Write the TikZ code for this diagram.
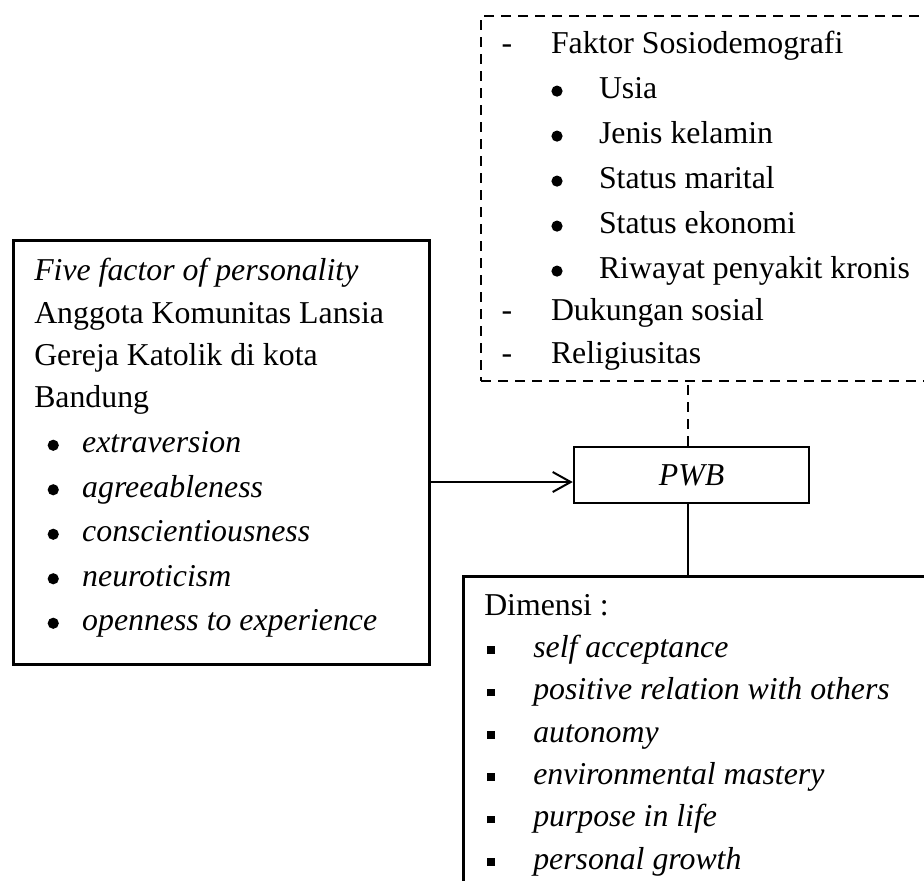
\documentclass[tikz,border=0pt]{standalone}
\usepackage{fontspec}
\setmainfont{Liberation Serif}
\usetikzlibrary{positioning,calc,arrows.meta}

% symbol centred at #1, text starting at #3 (both from the left margin)
\newcommand{\lstitem}[4]{\rlap{\hspace*{#1}\makebox[0pt]{#2}}\hspace*{#3}#4}
\newcommand{\sqbul}{\rule[1.7pt]{3.9pt}{3.9pt}}
\newcommand{\rndbul}{\tikz[baseline=0pt,x=1pt,y=1pt]\fill (0,3.7) circle [radius=2.8pt];}
\newcommand{\boxfont}{\fontsize{15.9pt}{21.15pt}\selectfont\parindent=0pt\leftskip=10.5pt}

\begin{document}
\begin{tikzpicture}[x=0.5pt,y=-0.5pt,
box/.style={
  draw,
  line width=1.25pt,
  inner sep=0pt,
  anchor=north west},
dashbox/.style={box, line width=1pt, dash pattern=on 5pt off 3.5pt},
link/.style={line width=1pt},
dashlink/.style={link, dash pattern=on 5pt off 3.5pt},
arr/.style={link, -{Straight Barb[length=9pt,width=10pt]}}
]
\useasboundingbox (0,0) rectangle (924,880);
\clip (0,0) rectangle (924,880);
% personality box
\node[box] (L) at (12,239) {\begin{minipage}[t][212pt][t]{208pt}\boxfont
\rule{0pt}{20.25pt}\textit{Five factor of personality}\\
Anggota Komunitas Lansia\\
Gereja Katolik di kota\\
Bandung\\[1.35pt]
\lstitem{9.5pt}{\rndbul}{24pt}{\textit{extraversion}}\\[1.1pt]
\lstitem{9.5pt}{\rndbul}{24pt}{\textit{agreeableness}}\\[1.1pt]
\lstitem{9.5pt}{\rndbul}{24pt}{\textit{conscientiousness}}\\[1.1pt]
\lstitem{9.5pt}{\rndbul}{24pt}{\textit{neuroticism}}\\[1.1pt]
\lstitem{9.5pt}{\rndbul}{24pt}{\textit{openness to experience}}
\end{minipage}};
% other factors
\node[dashbox] (D) at (480,15) {\begin{minipage}[t][182.5pt][t]{235pt}\boxfont
\rule{0pt}{18.75pt}\lstitem{2.5pt}{-}{24.5pt}{Faktor Sosiodemografi}\\[1.35pt]
\lstitem{27.5pt}{\rndbul}{48.5pt}{Usia}\\[1.35pt]
\lstitem{27.5pt}{\rndbul}{48.5pt}{Jenis kelamin}\\[1.35pt]
\lstitem{27.5pt}{\rndbul}{48.5pt}{Status marital}\\[1.35pt]
\lstitem{27.5pt}{\rndbul}{48.5pt}{Status ekonomi}\\[1.35pt]
\lstitem{27.5pt}{\rndbul}{48.5pt}{Riwayat penyakit kronis}\\
\lstitem{2.5pt}{-}{24.5pt}{Dukungan sosial}\\
\lstitem{2.5pt}{-}{24.5pt}{Religiusitas}
\end{minipage}};
\node[box, anchor=center, minimum width=117.5pt, minimum height=28pt] (P)
  at (691.5,475) {\fontsize{15.9pt}{21.15pt}\selectfont\textit{PWB}};
% dimensions
\node[box] (B) at (462,575) {\begin{minipage}[t][165pt][t]{244pt}\boxfont
\rule{0pt}{19.5pt}Dimensi :\\
\lstitem{3.5pt}{\sqbul}{24.5pt}{\textit{self acceptance}}\\
\lstitem{3.5pt}{\sqbul}{24.5pt}{\textit{positive relation with others}}\\
\lstitem{3.5pt}{\sqbul}{24.5pt}{\textit{autonomy}}\\
\lstitem{3.5pt}{\sqbul}{24.5pt}{\textit{environmental mastery}}\\
\lstitem{3.5pt}{\sqbul}{24.5pt}{\textit{purpose in life}}\\
\lstitem{3.5pt}{\sqbul}{24.5pt}{\textit{personal growth}}
\end{minipage}};
\coordinate (pt) at ([xshift=-1.75pt]P.north);
\coordinate (pb) at ([xshift=-1.75pt]P.south);
\coordinate (pw) at ([yshift=-3.5pt]P.west);
\draw[dashlink] (pt) -- (pt |- D.south);
\draw[link] (pb) -- (pb |- B.north);
\draw[arr] (L.east |- pw) -- (pw);
\end{tikzpicture}
\end{document}
